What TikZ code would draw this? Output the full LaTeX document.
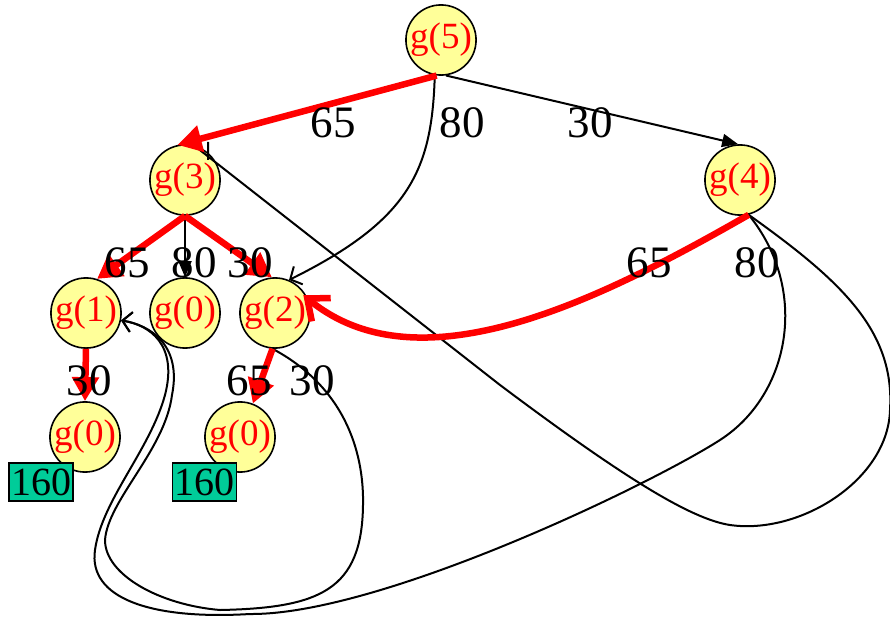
\documentclass[tikz,border=0pt]{standalone}
\usepackage{fontspec}
\setmainfont{Liberation Serif}
\usetikzlibrary{arrows.meta,calc}
\definecolor{nodefill}{HTML}{FFFF99}
\definecolor{boxfill}{HTML}{00CC99}
\begin{document}
\begin{tikzpicture}[x=1pt,y=-1pt,
  gnode/.style={circle,draw=black,line width=1.6pt,fill=nodefill,minimum size=66pt,inner sep=0pt,text=red,font=\fontsize{37}{37}\selectfont},
  lbl/.style={font=\fontsize{45}{45}\selectfont,inner sep=0pt},
  costbox/.style={draw=black,line width=1.2pt,fill=boxfill,minimum width=64pt,minimum height=38pt,inner sep=0pt,font=\fontsize{40}{40}\selectfont},
  blk/.style={draw=black,line width=2pt},
  redge/.style={draw=red,line width=6.5pt},
  redtip/.style={-{Triangle[length=24pt,width=26pt]}},
  redbarb/.style={-{Straight Barb[length=18pt,width=30pt]}},
  blktip/.style={-{Triangle[length=16pt,width=13pt]}},
  blkbarb/.style={-{Straight Barb[length=9pt,width=20pt]}}
]
\useasboundingbox (0,0) rectangle (890,617);

% nodes
\node[gnode] (g5) at (441,40) {g(5)};
\node[gnode] (g3) at (185,180) {g(3)};
\node[gnode] (g4) at (740,180) {g(4)};
\node[gnode] (g1) at (86,313) {g(1)};
\node[gnode] (g0m) at (185,313) {g(0)};
\node[gnode] (g2) at (275,313) {g(2)};
\node[gnode] (g0b) at (85,437) {g(0)};
\node[gnode] (g0c) at (240,437) {g(0)};
\node[costbox] (c1) at (41,482) {160};
\node[costbox] (c2) at (204.5,482) {160};

% black edges
\draw[blk,blktip] (g5.-82) -- (g4.93);
\draw[blk,blkbarb] (g5.-100) .. controls (432,170) and (410,220) .. (g2.67);
\draw[blk,blktip] (g3.south) -- (g0m.north);
\draw[blk,blkbarb] (g4.-76) .. controls (810,290) and (790,395) .. (720,440)
   .. controls (650,485) and (380,615) .. (250,614)
   .. controls (150,620) and (88,598) .. (95,550)
   .. controls (102,500) and (150,450) .. (165,395)
   .. controls (178,345) and (150,325) .. (g1.-12);
\draw[blk,blkbarb] (g2.-94) .. controls (350,390) and (364,460) .. (363,505)
   .. controls (362,590) and (320,608) .. (220,610)
   .. controls (160,605) and (105,575) .. (105,540)
   .. controls (108,500) and (165,450) .. (172,395)
   .. controls (182,345) and (150,325) .. (g1.-12);
\draw[blk] (g4.-76) .. controls (840,280) and (895,330) .. (890,410)
   .. controls (888,480) and (800,535) .. (730,525)
   .. controls (690,519) and (620,475) .. (500,385)
   -- (g3.76) (208,160) -- (208,142);

% red edges
\draw[redge,redtip] (g5.-97) -- (g3.102);
\draw[redge,redtip] (g3.south) -- (g1.72);
\draw[redge,redtip] (g3.south) -- (g2.95);
\draw[redge,redtip] (g1.south) -- (g0b.north);
\draw[redge,redtip] (g2.-94) -- (g0c.69);
\draw[redge,redbarb,shorten >=-6pt] (g4.-76) .. controls (600,300) and (420,390) .. (g2.23);

% labels
\node[lbl] (l1) at (333,123) {65};
\node[lbl] (l2) at (462,123) {80};
\node[lbl] (l3) at (590,123) {30};
\node[lbl] (l4) at (127,263) {65};
\node[lbl] (l5) at (194,263) {80};
\node[lbl] (l6) at (250,263) {30};
\node[lbl] (l7) at (649,263) {65};
\node[lbl] (l8) at (757,263) {80};
\node[lbl] (l9) at (89,381) {30};
\node[lbl] (l10) at (249,381) {65};
\node[lbl] (l11) at (312,381) {30};
\end{tikzpicture}
\end{document}
